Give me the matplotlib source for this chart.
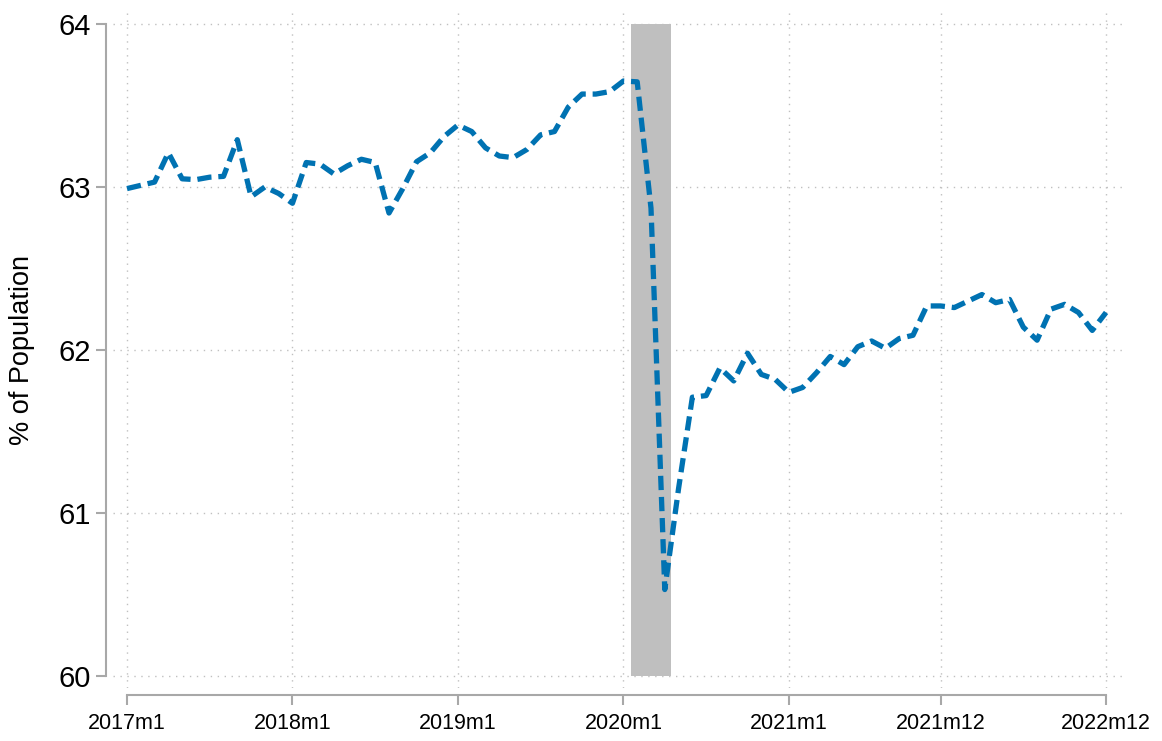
import numpy as np
import matplotlib
matplotlib.use('Agg')
import matplotlib.pyplot as plt

plt.rcParams['font.family'] = ['Liberation Sans', 'DejaVu Sans']

# monthly series, 2017m1 .. 2022m12 (% of population)
values = [
    62.99, 63.01, 63.03, 63.21, 63.05, 63.045, 63.06, 63.065, 63.29, 62.94, 63.00, 62.96,
    62.90, 63.15, 63.14, 63.08, 63.13, 63.17, 63.15, 62.84, 62.99, 63.155, 63.21, 63.31,
    63.38, 63.34, 63.24, 63.19, 63.18, 63.23, 63.32, 63.34, 63.49, 63.57, 63.57, 63.585,
    63.65, 63.645, 62.87, 60.53, 61.15, 61.71, 61.72, 61.89, 61.81, 61.98, 61.85, 61.82,
    61.74, 61.77, 61.86, 61.96, 61.91, 62.02, 62.055, 62.01, 62.07, 62.09, 62.27, 62.27,
    62.26, 62.30, 62.34, 62.29, 62.31, 62.14, 62.06, 62.25, 62.28, 62.23, 62.12, 62.23,
]
months = np.arange(len(values))  # 0 = 2017m1

xtick_pos = [0, 12, 24, 36, 48, 59, 71]
xtick_labels = ['2017m1', '2018m1', '2019m1', '2020m1', '2021m1', '2021m12', '2022m12']
ytick_pos = [60, 61, 62, 63, 64]

# recession months (2020m2 - 2020m4)
rec_start, rec_end = 37, 39

fig = plt.figure(figsize=(11.62, 7.41), dpi=100)
ax = fig.add_axes([113 / 1162, 1 - 688 / 741, (1123 - 113) / 1162, (688 - 8) / 741])

ax.fill_between([rec_start - 0.45, rec_end + 0.45], 60, 64, color='#bfbfbf', linewidth=0, zorder=1)

ax.plot(months, values, color='#0072b2', linewidth=3.8, dashes=(2.7, 1.3), zorder=3)

ax.set_xlim(-1.015, 72.23)
ax.set_ylim(59.926, 64.098)

ax.set_xticks(xtick_pos)
ax.set_xticklabels(xtick_labels)
ax.set_yticks(ytick_pos)
ax.set_yticklabels([str(v) for v in ytick_pos])

ax.grid(True, linestyle=(0, (1, 4)), color='#c0c0c0', linewidth=1.0, zorder=0)

for s in ['top', 'right']:
    ax.spines[s].set_visible(False)
for s in ['left', 'bottom']:
    ax.spines[s].set_position(('outward', 5))
    ax.spines[s].set_color('#a8a8a8')
    ax.spines[s].set_linewidth(1.5)
ax.spines['left'].set_bounds(60, 64)
ax.spines['bottom'].set_bounds(0, 71)

ax.tick_params(axis='both', colors='#a8a8a8', width=1.5, length=7, labelcolor='black')
ax.tick_params(axis='x', pad=6, labelsize=15.5)
ax.tick_params(axis='y', pad=4, labelsize=21)

ax.set_ylabel('% of Population', fontsize=19.5)
ax.yaxis.set_label_coords(-0.077, 0.497)

fig.savefig('out.png', dpi=100)
